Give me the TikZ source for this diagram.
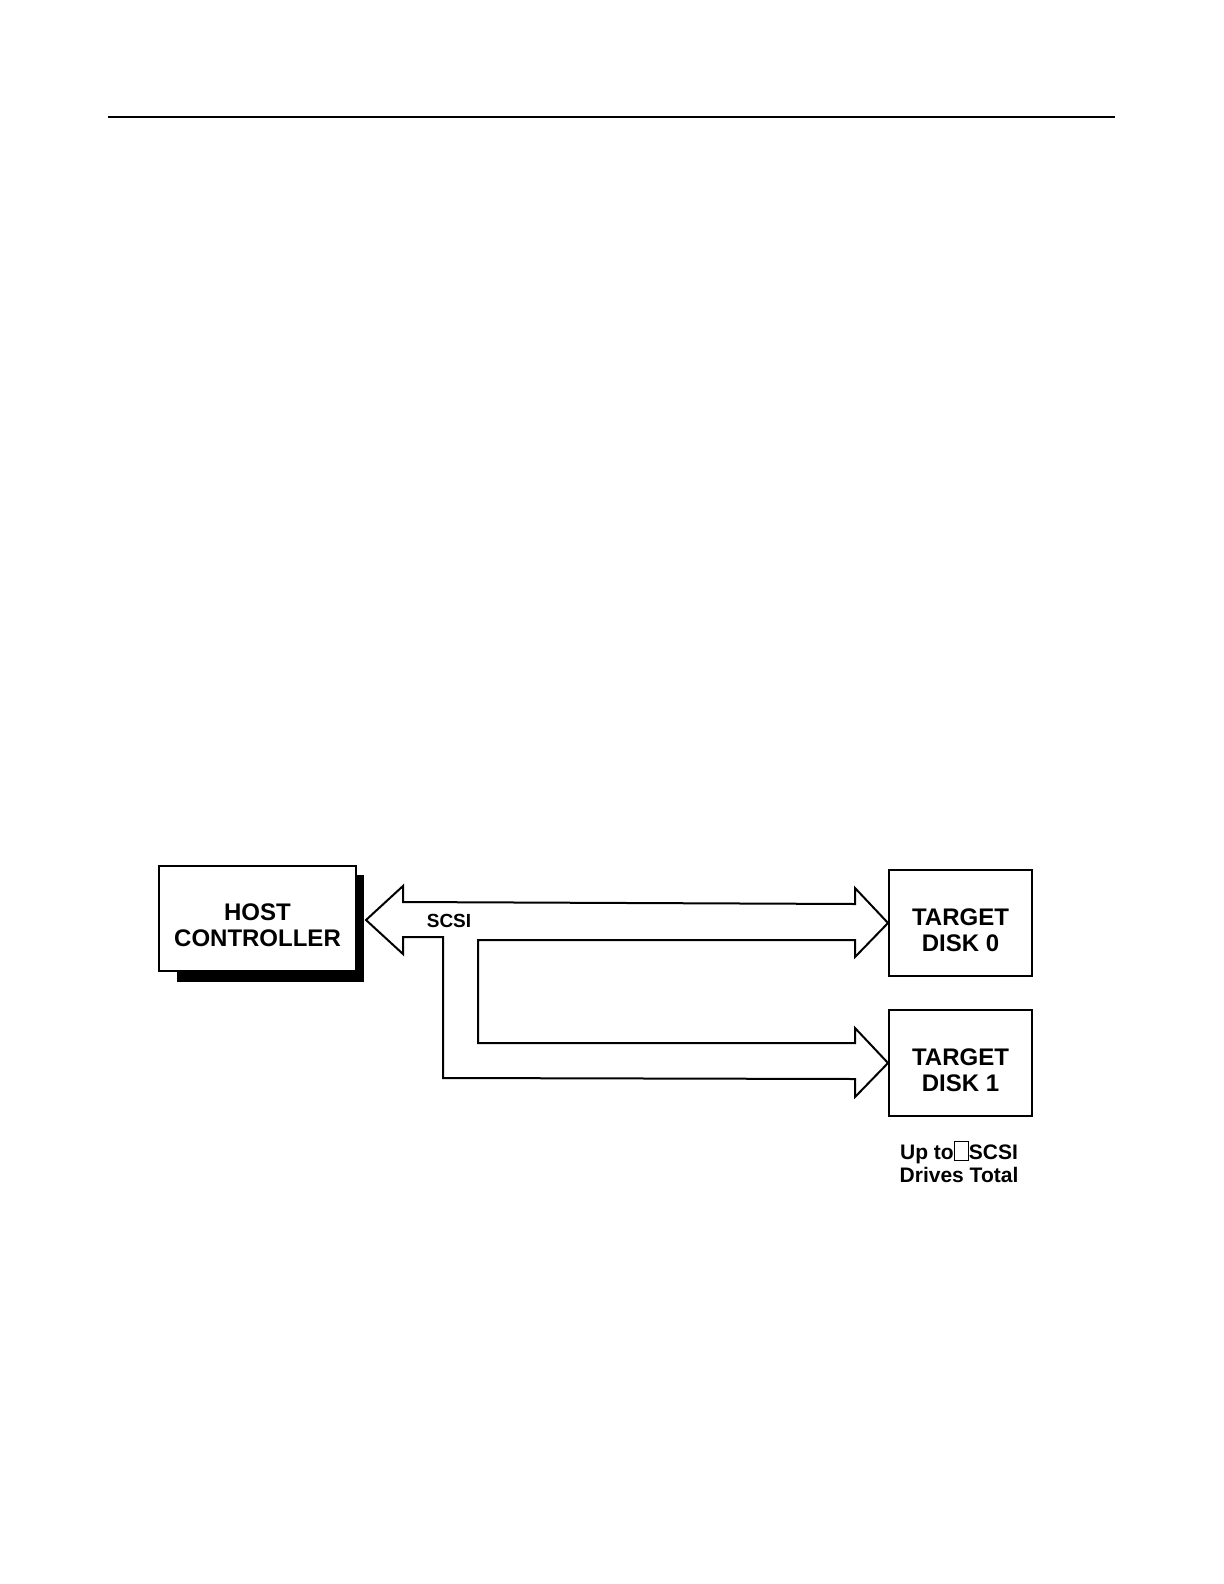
\documentclass[tikz,border=0pt]{standalone}
\usepackage{fontspec}
\setmainfont{Liberation Sans}
\newcommand{\missingglyph}{{\setlength{\fboxsep}{0pt}\setlength{\fboxrule}{0.5pt}\fbox{\rule{0pt}{9pt}\hspace{6.5pt}}}}
\begin{document}
\begin{tikzpicture}[x=0.5pt,y=-0.5pt,
  box/.style={draw,line width=1pt,fill=white,inner sep=0pt},
  boxtext/.style={inner sep=0pt,align=center,font=\bfseries\fontsize{12}{13.2}\selectfont},
  bus/.style={draw,line width=1pt,line join=miter}]
\useasboundingbox (0,0) rectangle (1224,1584);
% header rule
\draw[line width=1.1pt] (108,117) -- (1115,117);
% host controller with shadow
\fill (177,875) rectangle (364,982);
\node[box,minimum width=98.5pt,minimum height=52.5pt] (host) at (257.5,918.5) {};
\node[boxtext] (hostlabel) at ([yshift=-3.5pt]host.center) {HOST\\CONTROLLER};
% targets
\node[box,minimum width=71.5pt,minimum height=53pt] (d0) at (960.5,923) {};
\node[boxtext] (d0label) at ([yshift=-3.5pt]d0.center) {TARGET\\DISK 0};
\node[box,minimum width=71.5pt,minimum height=53pt] (d1) at (960.5,1063) {};
\node[boxtext] (d1label) at ([yshift=-3.5pt]d1.center) {TARGET\\DISK 1};
% SCSI bus outline
\coordinate (tipL) at (366,920);
\draw[bus] (tipL) -- (403,886) -- (403,902) -- (855,904) -- (855,888) -- (d0.west)
  -- (855,957) -- (855,940) -- (478,940) -- (478,1043) -- (855,1043) -- (855,1028)
  -- (d1.west) -- (855,1097) -- (855,1079) -- (443,1078) -- (443,937) -- (403,937)
  -- (403,954) -- cycle;
\node[font=\bfseries\fontsize{9.5}{11}\selectfont] (scsi) at (449,921) {SCSI};
\node[align=center,inner sep=0pt,font=\bfseries\fontsize{10.5}{11.5}\selectfont] (note) at (959,1162) {Up to\missingglyph SCSI\\Drives Total};
\end{tikzpicture}
\end{document}
